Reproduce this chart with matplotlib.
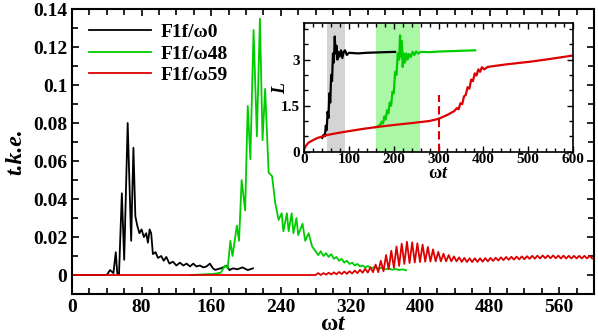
import numpy as np
import matplotlib
matplotlib.use('Agg')
import matplotlib.pyplot as plt
from matplotlib.ticker import MultipleLocator

plt.rcParams['font.family'] = ['Liberation Serif', 'DejaVu Serif']
plt.rcParams['font.weight'] = 'bold'
plt.rcParams['mathtext.fontset'] = 'custom'
plt.rcParams['mathtext.rm'] = 'Liberation Serif:bold'
plt.rcParams['mathtext.it'] = 'Liberation Serif:italic:bold'
plt.rcParams['mathtext.bf'] = 'Liberation Serif:bold'

labels = ['F1f/ω0', 'F1f/ω48', 'F1f/ω59']
c_black, c_green, c_red = 'black', '#00cc00', '#dd0000'

# t.k.e. curves (main panel)
blk_t = [0, 40, 43.7, 47.6, 50.3, 52, 54, 57.3, 60, 64,
         68, 70.6, 72.8, 75, 77.5, 80, 82.6, 85.3, 87.3, 89.2,
         91, 93, 96, 98.8, 102.6, 105.4, 108.4, 112, 116, 120,
         124, 128, 131.7, 135.6, 139.4, 143, 147, 151, 154.6, 158.5,
         162, 164.6, 171, 178, 181, 185, 190, 196, 202, 208]
blk_v = [0, 0, 0.0026, 0.001, 0.012, 0.001, 0, 0.043, 0.008, 0.080,
         0.018, 0.067, 0.031, 0.026, 0.022, 0.024, 0.020, 0.022, 0.017, 0.024,
         0.022, 0.011, 0.012, 0.009, 0.010, 0.0075, 0.0095, 0.006, 0.007, 0.005,
         0.0065, 0.005, 0.006, 0.0045, 0.006, 0.0045, 0.005, 0.004, 0.0045, 0.006,
         0.0035, 0.0027, 0.0035, 0.0049, 0.0026, 0.0035, 0.003, 0.004, 0.0026, 0.0035]

grn_t = [137, 150, 163, 171, 176, 179, 182, 184.5, 189.5, 192,
         195, 199, 202, 205, 208.7, 212.5, 216, 219, 222, 226,
         230, 233.6, 237.4, 241, 243, 247, 249, 252.5, 254.5, 258,
         260, 265, 268, 272, 276, 280, 283, 286, 289, 292,
         295, 298, 301, 304, 307, 310, 313, 316, 319, 322,
         325, 328, 331, 334, 337, 340, 344, 348, 352, 356,
         360, 364, 368, 372, 376, 380, 384]
grn_v = [0, 0.0003, 0.0006, 0.0012, 0.005, 0.0035, 0.018, 0.010, 0.026, 0.018,
         0.050, 0.034, 0.089, 0.061, 0.129, 0.073, 0.135, 0.071, 0.098, 0.054,
         0.052, 0.038, 0.029, 0.0325, 0.023, 0.0325, 0.023, 0.0325, 0.022, 0.030,
         0.021, 0.027, 0.018, 0.022, 0.015, 0.0125, 0.0105, 0.0125, 0.010, 0.0115,
         0.0095, 0.011, 0.0085, 0.0095, 0.0075, 0.0085, 0.0065, 0.0075, 0.0058, 0.0065,
         0.005, 0.0058, 0.0045, 0.005, 0.004, 0.0047, 0.0037, 0.0042, 0.0033, 0.0038,
         0.003, 0.0035, 0.0028, 0.0032, 0.0026, 0.003, 0.0025]

red_quiet_t = [0, 250]
red_quiet_v = [0, 0]
red_osc_start, red_osc_step = 280, 3
red_osc_v = [0.0, 0.001, 0.0, 0.001, 0.0002, 0.0012, 0.0003, 0.0014, 0.0004, 0.0016,
             0.0005, 0.0018, 0.0006, 0.002, 0.0008, 0.0023, 0.001, 0.0027, 0.0012, 0.0033,
             0.0013, 0.004, 0.0015, 0.0055, 0.0015, 0.0075, 0.002, 0.0105, 0.003, 0.0128,
             0.0038, 0.015, 0.0048, 0.0165, 0.0058, 0.0175, 0.0063, 0.0172, 0.0066, 0.0167,
             0.0068, 0.016, 0.007, 0.0148, 0.0071, 0.0135, 0.0072, 0.0122, 0.0072, 0.0112,
             0.0072, 0.0105, 0.0072,
             0.0098, 0.0072, 0.0093, 0.0069, 0.0090, 0.0068, 0.0088, 0.0068, 0.0088, 0.0069,
             0.0088, 0.0070, 0.0089, 0.0072, 0.0090, 0.0074, 0.0091, 0.0076, 0.0093, 0.0078,
             0.0095, 0.0080, 0.0096, 0.0081, 0.0097, 0.0082, 0.0098, 0.0083, 0.0099, 0.0085,
             0.0101, 0.0086, 0.0102, 0.0087, 0.0103, 0.0088, 0.0103, 0.0088, 0.0103, 0.0088,
             0.0102, 0.0087, 0.0102, 0.0087, 0.0101, 0.0087, 0.0101, 0.0087, 0.0101, 0.0087,
             0.0101, 0.0087, 0.0101, 0.0087]

# L curves (inset)
Lblk_t = [40, 43, 46, 48, 50, 52, 54, 56, 58, 60,
          62, 64, 66, 68, 70, 72, 74, 76, 79, 82,
          85, 88, 91, 95, 100, 120, 140, 160, 180, 203]
Lblk_v = [0.45, 0.55, 0.5, 0.85, 0.7, 1.3, 1.1, 1.9, 1.6, 2.5,
          2.3, 3.2, 2.9, 3.75, 3.2, 3.45, 3.0, 3.25, 3.1, 3.3,
          3.05, 3.25, 3.3, 3.15, 3.22, 3.2, 3.22, 3.23, 3.24, 3.25]

Lgrn_t = [160, 165, 170, 173, 176, 179, 182, 185, 188, 191,
          194, 197, 200, 203, 206, 209, 212, 214, 216, 218,
          220, 222, 225, 228, 231, 234, 238, 242, 246, 250,
          255, 260, 280, 300, 320, 340, 360, 382]
Lgrn_v = [0.80, 0.83, 0.88, 0.98, 0.92, 1.15, 1.05, 1.35, 1.25, 1.6,
          1.5, 1.95, 1.9, 2.6, 2.5, 3.2, 3.0, 3.79, 3.1, 3.6,
          2.76, 3.2, 2.9, 3.2, 3.0, 3.18, 3.08, 3.25, 3.15, 3.26,
          3.2, 3.25, 3.24, 3.26, 3.27, 3.28, 3.29, 3.3]

Lred_t = [0, 5, 10, 20, 30, 50, 75, 100, 130, 160,
          200, 245, 280, 300, 320, 335, 341, 345, 349, 353,
          357, 361, 365, 369, 373, 377, 381, 385, 389, 393,
          397, 402, 410, 420, 450, 505, 550, 600]
Lred_v = [0.1, 0.22, 0.3, 0.38, 0.45, 0.54, 0.61, 0.67, 0.74, 0.8,
          0.87, 0.94, 1.0, 1.07, 1.2, 1.32, 1.42, 1.38, 1.58, 1.55,
          1.8, 1.85, 2.1, 2.05, 2.35, 2.3, 2.55, 2.48, 2.68, 2.6,
          2.75, 2.68, 2.76, 2.78, 2.84, 2.93, 3.02, 3.13]

grey_band = (50, 90)
green_band = (160, 258)
marker_t, marker_top = 300, 1.86

red_t = np.concatenate([red_quiet_t, red_osc_start + red_osc_step * np.arange(len(red_osc_v))])
red_v = np.concatenate([red_quiet_v, red_osc_v])

fig = plt.figure(figsize=(5.98, 3.36), dpi=100)
ax = fig.add_axes([0.1204, 0.125, 0.8729, 0.848])

ax.plot(blk_t, blk_v, color=c_black, lw=1.3, label=labels[0])
ax.plot(grn_t, grn_v, color=c_green, lw=1.3, label=labels[1])
ax.plot(red_t, red_v, color=c_red, lw=1.3, label=labels[2])

ax.set_xlim(0, 600)
ax.set_ylim(-0.01, 0.14)
ax.xaxis.set_major_locator(MultipleLocator(80))
ax.xaxis.set_minor_locator(MultipleLocator(20))
ax.yaxis.set_major_locator(MultipleLocator(0.02))
ax.yaxis.set_minor_locator(MultipleLocator(0.01))
ax.set_xticks([0, 80, 160, 240, 320, 400, 480, 560])
ax.set_yticks([0, 0.02, 0.04, 0.06, 0.08, 0.1, 0.12, 0.14])
ax.set_yticklabels(['0', '0.02', '0.04', '0.06', '0.08', '0.1', '0.12', '0.14'])
ax.tick_params(which='both', direction='in', top=True, right=True, width=1.2, labelsize=14)
ax.tick_params(which='major', length=5)
ax.tick_params(which='minor', length=4)
for s in ax.spines.values():
    s.set_linewidth(1.5)
ax.set_xlabel(r'$\mathrm{\omega}t$', fontsize=17, labelpad=-1)
ax.set_ylabel('t.k.e.', fontsize=17, fontstyle='italic', fontweight='bold', labelpad=5)

ax.legend(loc='upper left', frameon=False, fontsize=14, handlelength=3.2,
          handletextpad=0.5, labelspacing=0.2, borderaxespad=0.2,
          bbox_to_anchor=(0.01, 0.99))

ins = fig.add_axes([0.5089, 0.5485, 0.4488, 0.384])
ins.axvspan(*grey_band, color='#d4d4d4', lw=0)
ins.axvspan(*green_band, color='#aaf7a6', lw=0)
ins.plot(Lblk_t, Lblk_v, color=c_black, lw=1.6)
ins.plot(Lgrn_t, Lgrn_v, color=c_green, lw=1.6)
ins.plot(Lred_t, Lred_v, color=c_red, lw=1.6)
ins.plot([marker_t, marker_t], [0, marker_top], color=c_red, lw=1.5, ls=(0, (4, 2)))
ins.set_xlim(0, 600)
ins.set_ylim(0, 4.2)
ins.xaxis.set_major_locator(MultipleLocator(100))
ins.xaxis.set_minor_locator(MultipleLocator(20))
ins.set_yticks([0, 1.5, 3])
ins.set_yticklabels(['0', '1.5', '3'])
ins.yaxis.set_minor_locator(MultipleLocator(0.5))
ins.tick_params(which='both', direction='in', top=True, right=True, width=1.0, labelsize=11, pad=1)
ins.tick_params(axis='y', which='major', pad=3)
ins.tick_params(which='major', length=4)
ins.tick_params(which='minor', length=3)
for s in ins.spines.values():
    s.set_linewidth(1.2)
ins.set_xlabel(r'$\mathrm{\omega}t$', fontsize=13, labelpad=-1)
ins.set_ylabel('L', fontsize=13, fontstyle='italic', fontweight='bold')
ins.yaxis.set_label_coords(-0.055, 0.49)

fig.savefig('out.png', dpi=100)
